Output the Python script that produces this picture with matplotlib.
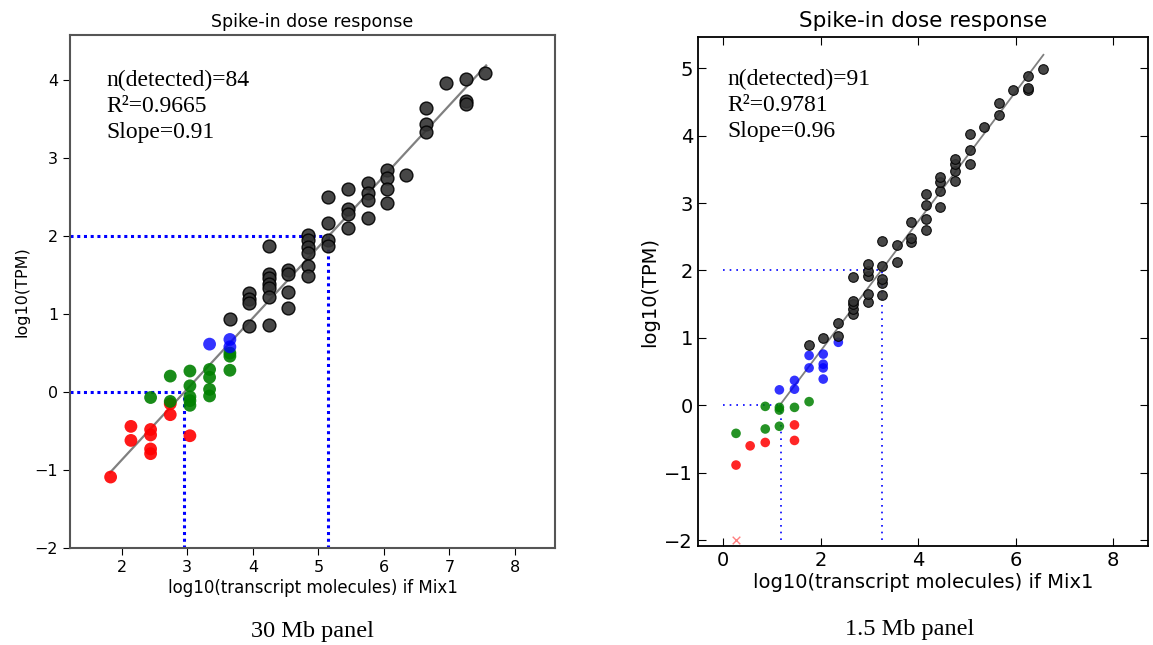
import matplotlib
matplotlib.use("Agg")
import matplotlib.pyplot as plt

# ---- 30 Mb panel data ----
l_red_x = [1.83, 2.14, 2.14, 2.44, 2.44, 2.44, 2.44, 2.74, 2.74, 3.04]
l_red_y = [-1.09, -0.44, -0.62, -0.48, -0.55, -0.73, -0.79, -0.15, -0.29, -0.56]
l_green_x = [2.44, 2.74, 2.74, 3.04, 3.04, 3.04, 3.04, 3.04, 3.34, 3.34, 3.34, 3.34, 3.65, 3.65, 3.65]
l_green_y = [-0.07, 0.205, -0.12, 0.27, 0.08, -0.06, -0.11, -0.17, 0.29, 0.19, 0.035, -0.05, 0.50, 0.46, 0.28]
l_blue_x = [3.34, 3.65, 3.65]
l_blue_y = [0.615, 0.675, 0.58]
l_black_x = [3.65, 3.94, 3.94, 3.94, 3.94,
             4.24, 4.24, 4.24, 4.24, 4.24, 4.24, 4.24,
             4.54, 4.54, 4.54, 4.54,
             4.84, 4.84, 4.84, 4.84, 4.84, 4.84,
             5.15, 5.15, 5.15, 5.15,
             5.45, 5.45, 5.45, 5.45,
             5.75, 5.75, 5.75, 5.75,
             6.04, 6.04, 6.04, 6.04,
             6.34, 6.64, 6.64, 6.64, 6.95, 7.25, 7.25, 7.25, 7.54]
l_black_y = [0.94, 0.85, 1.265, 1.20, 1.14,
             1.87, 1.52, 1.46, 1.39, 1.33, 1.22, 0.86,
             1.57, 1.52, 1.29, 1.08,
             2.01, 1.95, 1.86, 1.78, 1.62, 1.49,
             2.50, 2.17, 1.95, 1.88,
             2.60, 2.35, 2.29, 2.11,
             2.68, 2.55, 2.47, 2.23,
             2.85, 2.75, 2.61, 2.43,
             2.78, 3.65, 3.44, 3.34, 3.96, 4.01, 3.74, 3.70, 4.09]
l_fit_x = [1.82, 7.56]
l_slope, l_icpt = 0.91, -2.69
l_guides = [(2.95, 0.0), (5.15, 2.0)]
l_stats = "n(detected)=84\nR²=0.9665\nSlope=0.91"

# ---- 1.5 Mb panel data ----
r_red_x = [0.26, 0.55, 0.86, 1.46, 1.46]
r_red_y = [-0.885, -0.60, -0.55, -0.29, -0.52]
r_miss_x = [0.26]
r_miss_y = [-2.0]
r_green_x = [0.26, 0.86, 0.86, 1.15, 1.15, 1.15, 1.46, 1.76]
r_green_y = [-0.415, -0.015, -0.35, -0.03, -0.07, -0.31, -0.03, 0.055]
r_blue_x = [1.15, 1.46, 1.46, 1.76, 1.76, 2.05, 2.05, 2.05, 2.05, 2.36]
r_blue_y = [0.23, 0.37, 0.24, 0.74, 0.555, 0.76, 0.61, 0.555, 0.39, 0.935]
r_black_x = [1.76, 2.05, 2.36, 2.36,
             2.66, 2.66, 2.66, 2.66, 2.66,
             2.96, 2.96, 2.96, 2.96, 2.96,
             3.25, 3.25, 3.25, 3.25, 3.25,
             3.56, 3.56, 3.85, 3.85, 3.85,
             4.16, 4.16, 4.16, 4.16,
             4.45, 4.45, 4.45, 4.45,
             4.76, 4.76, 4.76, 4.76,
             5.06, 5.06, 5.06, 5.35, 5.65, 5.65, 5.95,
             6.25, 6.25, 6.25, 6.56]
r_black_y = [0.90, 1.00, 1.03, 1.22,
             1.36, 1.43, 1.50, 1.55, 1.90,
             1.53, 1.65, 1.92, 1.99, 2.09,
             1.64, 1.81, 1.875, 2.07, 2.44,
             2.12, 2.38, 2.42, 2.48, 2.72,
             2.60, 2.765, 2.97, 3.14,
             2.94, 3.185, 3.31, 3.39,
             3.32, 3.48, 3.58, 3.655,
             3.58, 3.78, 4.02, 4.12, 4.31, 4.48, 4.68,
             4.68, 4.71, 4.89, 4.98]
r_fit_x = [1.16, 6.57]
r_slope, r_icpt = 0.96, -1.11
r_guides = [(1.18, 0.0), (3.26, 2.0)]
r_stats = "n(detected)=91\nR²=0.9781\nSlope=0.96"

fig = plt.figure(figsize=(11.53, 6.45), dpi=100)
serif = "Liberation Serif"

# ---- left panel ----
ax = fig.add_axes([0.0607, 0.1504, 0.4206, 0.7953])
ax.set_xlim(1.21, 8.61)
ax.set_ylim(-2, 4.58)
for gx, gy in l_guides:
    ax.plot([1.21, gx], [gy, gy], color="blue", ls=(0, (1, 1.2)), lw=2.2)
    ax.plot([gx, gx], [-2, gy], color="blue", ls=(0, (1, 1.2)), lw=2.2)
ax.plot(l_fit_x, [l_slope * x + l_icpt for x in l_fit_x], color="gray", lw=1.6, zorder=3)
ms = 85
ax.scatter(l_red_x, l_red_y, s=ms, c="red", alpha=0.9, edgecolors="none", zorder=4)
ax.scatter(l_green_x, l_green_y, s=ms, c="green", alpha=0.9, edgecolors="none", zorder=4)
ax.scatter(l_blue_x, l_blue_y, s=ms, c="blue", alpha=0.8, edgecolors="none", zorder=4)
ax.scatter(l_black_x, l_black_y, s=ms, c="#333333", alpha=0.9, edgecolors="black", linewidths=1, zorder=4)
ax.set_xticks(range(2, 9))
ax.set_yticks(range(-2, 5))
ax.tick_params(direction="out", length=5, labelsize=11.5, top=False, right=False)
for sp in ax.spines.values():
    sp.set_color("#555555")
    sp.set_linewidth(1.5)
ax.set_title("Spike-in dose response", fontsize=12.5, pad=6)
ax.set_xlabel("log10(transcript molecules) if Mix1", fontsize=12, labelpad=3)
ax.set_ylabel("log10(TPM)", fontsize=11.5)
ax.text(0.075, 0.932, l_stats, transform=ax.transAxes, family=serif, fontsize=17,
        va="top", linespacing=1.3)

# ---- right panel ----
ax2 = fig.add_axes([0.6054, 0.1535, 0.3904, 0.789])
ax2.set_xlim(-0.52, 8.72)
ax2.set_ylim(-2.085, 5.46)
for gx, gy in r_guides:
    ax2.plot([0, gx], [gy, gy], color="blue", ls=(0, (1, 3)), lw=1.2)
    ax2.plot([gx, gx], [-2, gy], color="blue", ls=(0, (1, 3)), lw=1.2)
ax2.plot(r_fit_x, [r_slope * x + r_icpt for x in r_fit_x], color="gray", lw=1.3, zorder=3)
ms2 = 48
ax2.scatter(r_red_x, r_red_y, s=ms2, c="red", alpha=0.85, edgecolors="none", zorder=4)
ax2.scatter(r_miss_x, r_miss_y, s=30, c="red", alpha=0.5, marker="x", linewidths=1, zorder=4)
ax2.scatter(r_green_x, r_green_y, s=ms2, c="green", alpha=0.85, edgecolors="none", zorder=4)
ax2.scatter(r_blue_x, r_blue_y, s=ms2, c="blue", alpha=0.8, edgecolors="none", zorder=4)
ax2.scatter(r_black_x, r_black_y, s=ms2, c="#333333", alpha=0.9, edgecolors="black", linewidths=0.8, zorder=4)
ax2.set_xticks(range(0, 9, 2))
ax2.set_yticks(range(-2, 6))
ax2.tick_params(direction="in", length=6, labelsize=14, top=True, right=True)
for sp in ax2.spines.values():
    sp.set_color("black")
    sp.set_linewidth(1.3)
ax2.set_title("Spike-in dose response", fontsize=15.5, pad=7)
ax2.set_xlabel("log10(transcript molecules) if Mix1", fontsize=14, labelpad=2)
ax2.set_ylabel("log10(TPM)", fontsize=14)
ax2.text(0.065, 0.937, r_stats, transform=ax2.transAxes, family=serif, fontsize=17,
         va="top", linespacing=1.3)

# ---- panel captions ----
fig.text(312 / 1153, 1 - 632 / 645, "30 Mb panel", family=serif, fontsize=17.5, ha="center", va="center")
fig.text(910 / 1153, 1 - 629 / 645, "1.5 Mb panel", family=serif, fontsize=17.5, ha="center", va="center")

fig.savefig("out.png", dpi=100)
